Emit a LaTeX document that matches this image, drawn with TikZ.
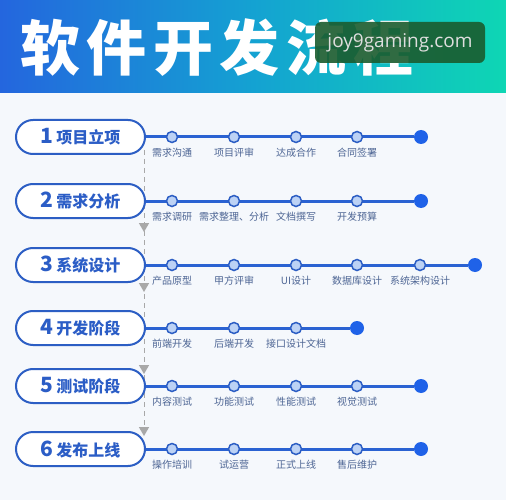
\documentclass[tikz,border=0pt]{standalone}
\usepackage{fontspec}
\setmainfont{Noto Sans CJK SC}
\newfontfamily\wmfont{Open Sans}
\usepackage{tikz}
\usetikzlibrary{shapes.misc,shapes.geometric}

\definecolor{bg}{HTML}{F5F8FC}
\definecolor{headL}{HTML}{2466DE}
\definecolor{headM}{HTML}{14A2D2}
\definecolor{headR}{HTML}{0ED6B4}
\definecolor{pillblue}{HTML}{2C5EC4}
\definecolor{pilltext}{HTML}{2B5DC6}
\definecolor{trackblue}{HTML}{2A62D2}
\definecolor{dotfill}{HTML}{BCD2F5}
\definecolor{endblue}{HTML}{1F62E8}
\definecolor{labgray}{HTML}{4D6594}
\definecolor{guidegray}{HTML}{A8A8A8}
\definecolor{wmgreen}{HTML}{1A5C2E}
\definecolor{wmtext}{HTML}{DEDEDE}

\newcommand\stagelabel[2]{{\fontsize{21}{21}\selectfont\bfseries #1}\hspace{3pt}{\fontsize{16}{16}\selectfont\bfseries #2}}

\begin{document}
\begin{tikzpicture}[x=1pt,y=-1pt,
    pill/.style={rounded rectangle,draw=pillblue,line width=2pt,fill=white,
      text=pilltext,minimum width=129pt,minimum height=34pt,inner sep=0pt},
    track/.style={draw=trackblue,line width=3pt},
    dot/.style={circle,draw=pillblue,line width=1.5pt,fill=dotfill,
      minimum size=11pt,inner sep=0pt},
    enddot/.style={circle,fill=endblue,minimum size=14pt,inner sep=0pt},
    lab/.style={text=labgray,font=\fontsize{10}{10}\selectfont,inner sep=0pt,label distance=4.5pt},
    guide/.style={draw=guidegray,line width=1pt,dash pattern=on 5pt off 4pt},
    tri/.style={regular polygon,regular polygon sides=3,shape border rotate=180,
      fill=guidegray,minimum size=12pt,inner sep=0pt},
    every label/.style={lab}]
  \useasboundingbox (0,0) rectangle (506,500);
  \fill[bg] (0,0) rectangle (506,500);
  \shade[left color=headL,right color=headR,middle color=headM] (0,0) rectangle (506,93);

  % title and watermark
  \node[anchor=west,inner sep=0pt,text=white,
        font=\fontsize{60}{60}\selectfont\bfseries\addfontfeature{LetterSpace=11}] (T) at (20,48) {软件开发流程};
  \node[fill=wmgreen,fill opacity=0.9,text opacity=1,text=wmtext,rounded corners=6pt,
        minimum width=170pt,minimum height=41pt,inner sep=0pt,
        font=\wmfont\fontsize{19}{19}\selectfont] (W) at (400,42.5) {joy9gaming.com};

  % dashed guide
  \coordinate (DT) at (144,150);
  \coordinate (DB) at (144,432);
  \draw[guide] (DT) -- (DB);
  \node[tri] (A1) at (144,226) {};
  \node[tri] (A2) at (144,286) {};
  \node[tri] (A3) at (144,368) {};
  \node[tri] (A4) at (144,430) {};

  % stages
  \node[pill] (P1) at (80.5,137) {\stagelabel{1}{项目立项}};
  \node[pill] (P2) at (80.5,201) {\stagelabel{2}{需求分析}};
  \node[pill] (P3) at (80.5,265) {\stagelabel{3}{系统设计}};
  \node[pill] (P4) at (80.5,328) {\stagelabel{4}{开发阶段}};
  \node[pill] (P5) at (80.5,386) {\stagelabel{5}{测试阶段}};
  \node[pill] (P6) at (80.5,449) {\stagelabel{6}{发布上线}};

  % row 1
  \node[enddot] (E1) at (421,137) {};
  \draw[track] (P1.east) -- (E1);
  \node[dot,label=below:需求沟通] (N11) at (172,137) {};
  \node[dot,label=below:项目评审] (N12) at (234,137) {};
  \node[dot,label=below:达成合作] (N13) at (296,137) {};
  \node[dot,label=below:合同签署] (N14) at (357,137) {};

  % row 2
  \node[enddot] (E2) at (421,201) {};
  \draw[track] (P2.east) -- (E2);
  \node[dot,label=below:需求调研] (N21) at (172,201) {};
  \node[dot,label=below:需求整理、分析] (N22) at (234,201) {};
  \node[dot,label=below:文档撰写] (N23) at (296,201) {};
  \node[dot,label=below:开发预算] (N24) at (357,201) {};

  % row 3
  \node[enddot] (E3) at (475,265) {};
  \draw[track] (P3.east) -- (E3);
  \node[dot,label=below:产品原型] (N31) at (172,265) {};
  \node[dot,label=below:甲方评审] (N32) at (234,265) {};
  \node[dot,label=below:UI设计] (N33) at (296,265) {};
  \node[dot,label=below:数据库设计] (N34) at (357,265) {};
  \node[dot,label=below:系统架构设计] (N35) at (420,265) {};

  % row 4
  \node[enddot] (E4) at (357,328) {};
  \draw[track] (P4.east) -- (E4);
  \node[dot,label=below:前端开发] (N41) at (172,328) {};
  \node[dot,label=below:后端开发] (N42) at (234,328) {};
  \node[dot,label=below:接口设计文档] (N43) at (296,328) {};

  % row 5
  \node[enddot] (E5) at (421,386) {};
  \draw[track] (P5.east) -- (E5);
  \node[dot,label=below:内容测试] (N51) at (172,386) {};
  \node[dot,label=below:功能测试] (N52) at (234,386) {};
  \node[dot,label=below:性能测试] (N53) at (296,386) {};
  \node[dot,label=below:视觉测试] (N54) at (357,386) {};

  % row 6
  \node[enddot] (E6) at (421,449) {};
  \draw[track] (P6.east) -- (E6);
  \node[dot,label=below:操作培训] (N61) at (172,449) {};
  \node[dot,label=below:试运营] (N62) at (234,449) {};
  \node[dot,label=below:正式上线] (N63) at (296,449) {};
  \node[dot,label=below:售后维护] (N64) at (357,449) {};
\end{tikzpicture}
\end{document}
